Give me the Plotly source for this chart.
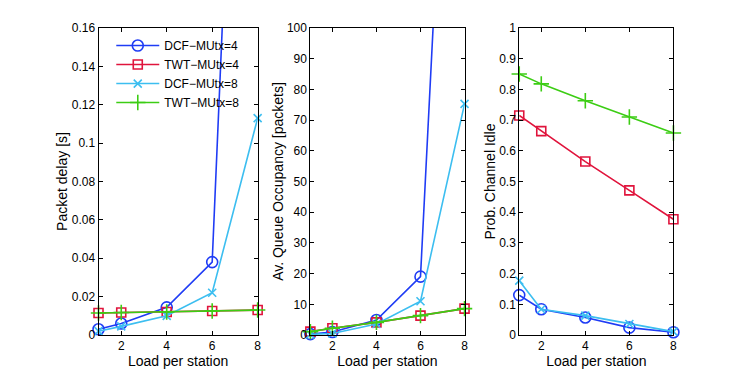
import plotly.graph_objects as go

load = [1, 2, 4, 6, 8]

# packet delay [s]
delay_dcf4 = [0.003, 0.006, 0.0144, 0.038, 0.59]
delay_twt4 = [0.0115, 0.0117, 0.012, 0.0125, 0.013]
delay_dcf8 = [0.002, 0.0045, 0.010, 0.022, 0.113]
delay_twt8 = [0.0115, 0.0117, 0.012, 0.0125, 0.013]

# queue occupancy [packets]
queue_dcf4 = [0.3, 1.0, 4.9, 19.0, 303]
queue_twt4 = [1.1, 2.2, 4.1, 6.3, 8.6]
queue_dcf8 = [0.2, 0.5, 3.6, 11.0, 75.3]
queue_twt8 = [1.1, 2.2, 4.1, 6.3, 8.6]

# prob channel idle
idle_dcf4 = [0.13, 0.084, 0.057, 0.024, 0.009]
idle_twt4 = [0.715, 0.664, 0.565, 0.471, 0.377]
idle_dcf8 = [0.177, 0.084, 0.063, 0.036, 0.011]
idle_twt8 = [0.85, 0.818, 0.763, 0.71, 0.658]

names = ['DCF\u2212MUtx=4', 'TWT\u2212MUtx=4', 'DCF\u2212MUtx=8', 'TWT\u2212MUtx=8']
colors = ['#1f3cf5', '#e0143c', '#3cbef0', '#3ccd14']
symbols = ['circle-open', 'square-open', 'x-thin-open', 'cross-thin-open']
sizes = [11, 9, 8, 11]

panels = [
    ([delay_dcf4, delay_twt4, delay_dcf8, delay_twt8], 'Packet delay [s]', [0, 0.16], 0.02),
    ([queue_dcf4, queue_twt4, queue_dcf8, queue_twt8], 'Av. Queue Occupancy [packets]', [0, 100], 10),
    ([idle_dcf4, idle_twt4, idle_dcf8, idle_twt8], 'Prob. Channel Idle', [0, 1], 0.1),
]

W, H = 747, 378
off = 8  # page body margin
xdoms = [[(99 - off) / W, (259 - off) / W],
         [(312 - off) / W, (467 - off) / W],
         [(522 - off) / W, (677 - off) / W]]

fig = go.Figure()
fam = 'Liberation Sans, Arial, sans-serif'
font = dict(family=fam, size=12, color='black')

for p, (series, ylab, yr, dt) in enumerate(panels):
    xa = 'x' if p == 0 else 'x%d' % (p + 1)
    ya = 'y' if p == 0 else 'y%d' % (p + 1)
    for i, ys in enumerate(series):
        fig.add_trace(go.Scatter(
            x=load, y=ys, xaxis=xa, yaxis=ya, mode='lines+markers',
            name=names[i], showlegend=(p == 0), cliponaxis=False,
            line=dict(color=colors[i], width=1.6),
            marker=dict(symbol=symbols[i], size=sizes[i], color=colors[i],
                        line=dict(color=colors[i], width=1.6)),
        ))
    axis_common = dict(showline=True, linecolor='black', linewidth=1, mirror='ticks',
                       ticks='inside', ticklen=4, tickcolor='black', showgrid=False,
                       zeroline=False, tickfont=font)
    fig.layout['xaxis' if p == 0 else 'xaxis%d' % (p + 1)] = dict(
        domain=xdoms[p], anchor=ya, range=[1, 8], tickvals=[2, 4, 6, 8],
        title=dict(text='Load per station', font=dict(size=14, family=fam), standoff=0),
        **axis_common)
    fig.layout['yaxis' if p == 0 else 'yaxis%d' % (p + 1)] = dict(
        domain=[0, 1], anchor=xa, range=yr, dtick=dt,
        title=dict(text=ylab, font=dict(size=14, family=fam), standoff=0),
        **axis_common)

fig.update_layout(
    width=W, height=H, plot_bgcolor='white', paper_bgcolor='white',
    margin=dict(l=0, r=0, t=28 - off, b=H - 335 + off), font=font,
    legend=dict(x=0.139, y=0.99, xanchor='left', yanchor='top',
                bgcolor='rgba(255,255,255,0)', font=dict(size=12, family=fam),
                tracegroupgap=0, itemwidth=43),
)

fig.write_html('out.html')
